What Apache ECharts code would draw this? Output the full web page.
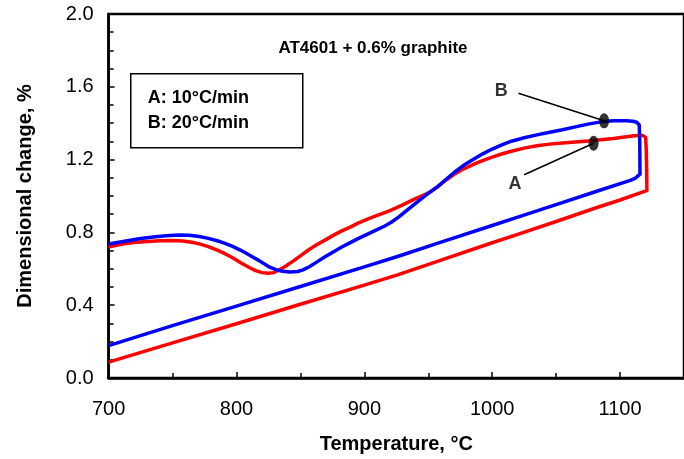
<!DOCTYPE html>
<html>
<head>
<meta charset="utf-8">
<script src="https://cdn.jsdelivr.net/npm/echarts@6/dist/echarts.min.js"></script>
<style>
html,body{margin:0;padding:0;background:#fff;}
#chart{width:684px;height:459px;}
</style>
</head>
<body>
<div id="chart"></div>
<script>
// ---- data ----
var chartTitle = 'AT4601 + 0.6% graphite';
var xAxisName = 'Temperature, \u00B0C';
var yAxisName = 'Dimensional change, %';
var legendLines = ['A: 10\u00B0C/min', 'B: 20\u00B0C/min'];

// Curve A (10 °C/min): heating then cooling [temperature, dimensional change %]
var curveA = [
  [700,0.720],[705,0.728],[712,0.737],[720,0.744],[730,0.750],[740,0.754],[750,0.755],
  [758,0.753],[765,0.746],[771,0.737],[778,0.722],[785,0.703],[791,0.683],[797,0.661],
  [803,0.635],[810,0.607],[815,0.590],[820,0.579],[825,0.575],[829,0.579],[834,0.596],
  [839,0.617],[844,0.641],[850,0.671],[856,0.702],[862,0.729],[869.6,0.759],[876,0.785],
  [882,0.807],[889,0.829],[895.5,0.852],[903,0.874],[910,0.893],[916,0.909],[921.4,0.924],
  [930,0.951],[939.6,0.984],[946,1.003],[952,1.025],[958,1.055],[964,1.088],[970,1.118],
  [976,1.143],[982,1.163],[988,1.182],[994,1.199],[1000,1.214],[1008,1.232],[1015,1.246],
  [1025,1.263],[1035,1.276],[1045,1.285],[1055,1.291],[1065,1.297],[1075,1.302],[1085,1.309],
  [1095,1.316],[1105,1.325],[1113,1.332],[1118,1.332],[1120,1.322],[1120.5,1.25],
  [1120.8,1.15],[1121,1.030],
  [1118,1.023],[1100,0.978],[1080.8,0.934],[1050,0.860],[1020,0.789],[1000,0.743],
  [960,0.648],[926.6,0.568],[900,0.510],[850,0.405],[800,0.298],[750,0.193],[700,0.087]
];
// Curve B (20 °C/min)
var curveB = [
  [700,0.736],[708,0.746],[716,0.756],[725,0.766],[735,0.775],[745,0.782],[755,0.786],
  [763,0.784],[771,0.777],[778,0.767],[785,0.754],[791,0.740],[797,0.723],[803,0.703],
  [808,0.684],[813,0.664],[817.7,0.645],[822,0.626],[826,0.609],[831,0.595],[836,0.586],
  [842,0.583],[848,0.585],[852,0.594],[857,0.611],[863,0.638],[869.6,0.667],[876,0.694],
  [882,0.718],[889,0.744],[895.5,0.767],[903,0.792],[910,0.815],[916,0.835],[921.4,0.857],
  [927,0.885],[933,0.920],[939.6,0.957],[945,0.987],[950,1.014],[957.7,1.053],[964,1.092],
  [970.7,1.132],[978,1.170],[986,1.204],[993,1.233],[1000,1.258],[1008,1.282],[1015,1.301],
  [1025,1.320],[1035,1.336],[1045,1.350],[1055,1.364],[1065,1.380],[1075,1.395],[1087,1.410],
  [1095,1.413],[1105,1.413],[1110,1.411],[1113,1.405],[1115,1.390],[1115.4,1.30],[1115.6,1.12],
  [1112,1.098],[1108,1.086],[1080,1.022],[1050,0.953],[1020,0.884],[1000,0.838],[960,0.747],
  [926.6,0.669],[900,0.611],[850,0.503],[800,0.395],[750,0.288],[700,0.178]
];

// annotations
var dotA = [1079.3, 1.29];
var dotB = [1087.5, 1.413];
var leaderA = [[1025, 1.117], [1079.3, 1.29]];
var leaderB = [[1020.5, 1.565], [1087.5, 1.413]];
var labelA = [1017.8, 1.068];
var labelB = [1007, 1.577];

var xMin = 700, xMax = 1150, xStep = 100;
var yMin = 0, yMax = 2.0, yStep = 0.4;

// ---- chart ----
var FONT = 'Arial, "Liberation Sans", sans-serif';
var chart = echarts.init(document.getElementById('chart'), null, {renderer: 'canvas'});
var option = {
  animation: false,
  backgroundColor: '#fff',
  title: {
    text: chartTitle, left: 368, top: 35, textAlign: 'center',
    textStyle: {fontFamily: FONT, fontWeight: 'bold', fontSize: 17, color: '#000'}
  },
  grid: {left: 108.6, top: 14, right: -3.5, bottom: 78, show: true,
         borderColor: '#000', borderWidth: 2.5, backgroundColor: 'transparent'},
  xAxis: {
    type: 'value', min: xMin, max: xMax, interval: xStep,
    name: xAxisName, nameLocation: 'middle', nameGap: 56,
    nameTextStyle: {fontFamily: FONT, fontWeight: 'bold', fontSize: 20, color: '#000'},
    axisLine: {show: true, onZero: false, lineStyle: {color: '#000', width: 2.5}},
    axisTick: {show: true, inside: true, length: 6, lineStyle: {color: '#000', width: 1.5}},
    minorTick: {show: true, splitNumber: 2, length: 5, lineStyle: {color: '#000', width: 1.5}},
    axisLabel: {fontFamily: FONT, fontSize: 20, color: '#000', margin: 21, showMaxLabel: false,
      formatter: function (v) { return v % 100 === 0 ? String(v) : ''; }},
    splitLine: {show: false}
  },
  yAxis: {
    type: 'value', min: yMin, max: yMax, interval: yStep,
    name: yAxisName, nameLocation: 'middle', nameGap: 73,
    nameTextStyle: {fontFamily: FONT, fontWeight: 'bold', fontSize: 20, color: '#000'},
    axisLine: {show: true, onZero: false, lineStyle: {color: '#000', width: 2.5}},
    axisTick: {show: true, inside: true, length: 6, lineStyle: {color: '#000', width: 1.5}},
    minorTick: {show: true, splitNumber: 4, length: 5, lineStyle: {color: '#000', width: 1.5}},
    axisLabel: {fontFamily: FONT, fontSize: 20, color: '#000', margin: 15,
      formatter: function (v) { return v.toFixed(1); }},
    splitLine: {show: false}
  },
  graphic: [{
    type: 'group', left: 130, top: 73, children: [
      {type: 'rect', shape: {x: 0, y: 0, width: 172, height: 74},
       style: {fill: '#fff', stroke: '#000', lineWidth: 1.5}},
      {type: 'text', left: 17, top: 12,
       style: {text: legendLines.join('\n'), fontFamily: FONT, fontWeight: 'bold',
               fontSize: 18, lineHeight: 25, fill: '#000'}}
    ]
  }],
  series: [
    {type: 'line', name: 'A', data: curveA, showSymbol: false, symbol: 'none',
     lineStyle: {color: '#ff0000', width: 3.5, join: 'round'}, z: 3},
    {type: 'line', name: 'B', data: curveB, showSymbol: false, symbol: 'none',
     lineStyle: {color: '#0000ff', width: 3.5, join: 'round'}, z: 4},
    {type: 'line', data: leaderA, symbol: 'none', lineStyle: {color: '#000', width: 1.5}, z: 5},
    {type: 'line', data: leaderB, symbol: 'none', lineStyle: {color: '#000', width: 1.5}, z: 5},
    {type: 'scatter', data: [dotA, dotB], symbol: 'circle', symbolSize: [10, 15],
     itemStyle: {color: '#000'}, z: 6},
    {type: 'scatter', data: [
        {value: labelA, name: 'A'}, {value: labelB, name: 'B'}],
     symbolSize: 0, z: 6,
     label: {show: true, position: 'inside', formatter: '{b}', fontFamily: FONT,
             fontWeight: 'bold', fontSize: 18, color: '#000'}}
  ]
};
chart.setOption(option);
</script>
</body>
</html>
